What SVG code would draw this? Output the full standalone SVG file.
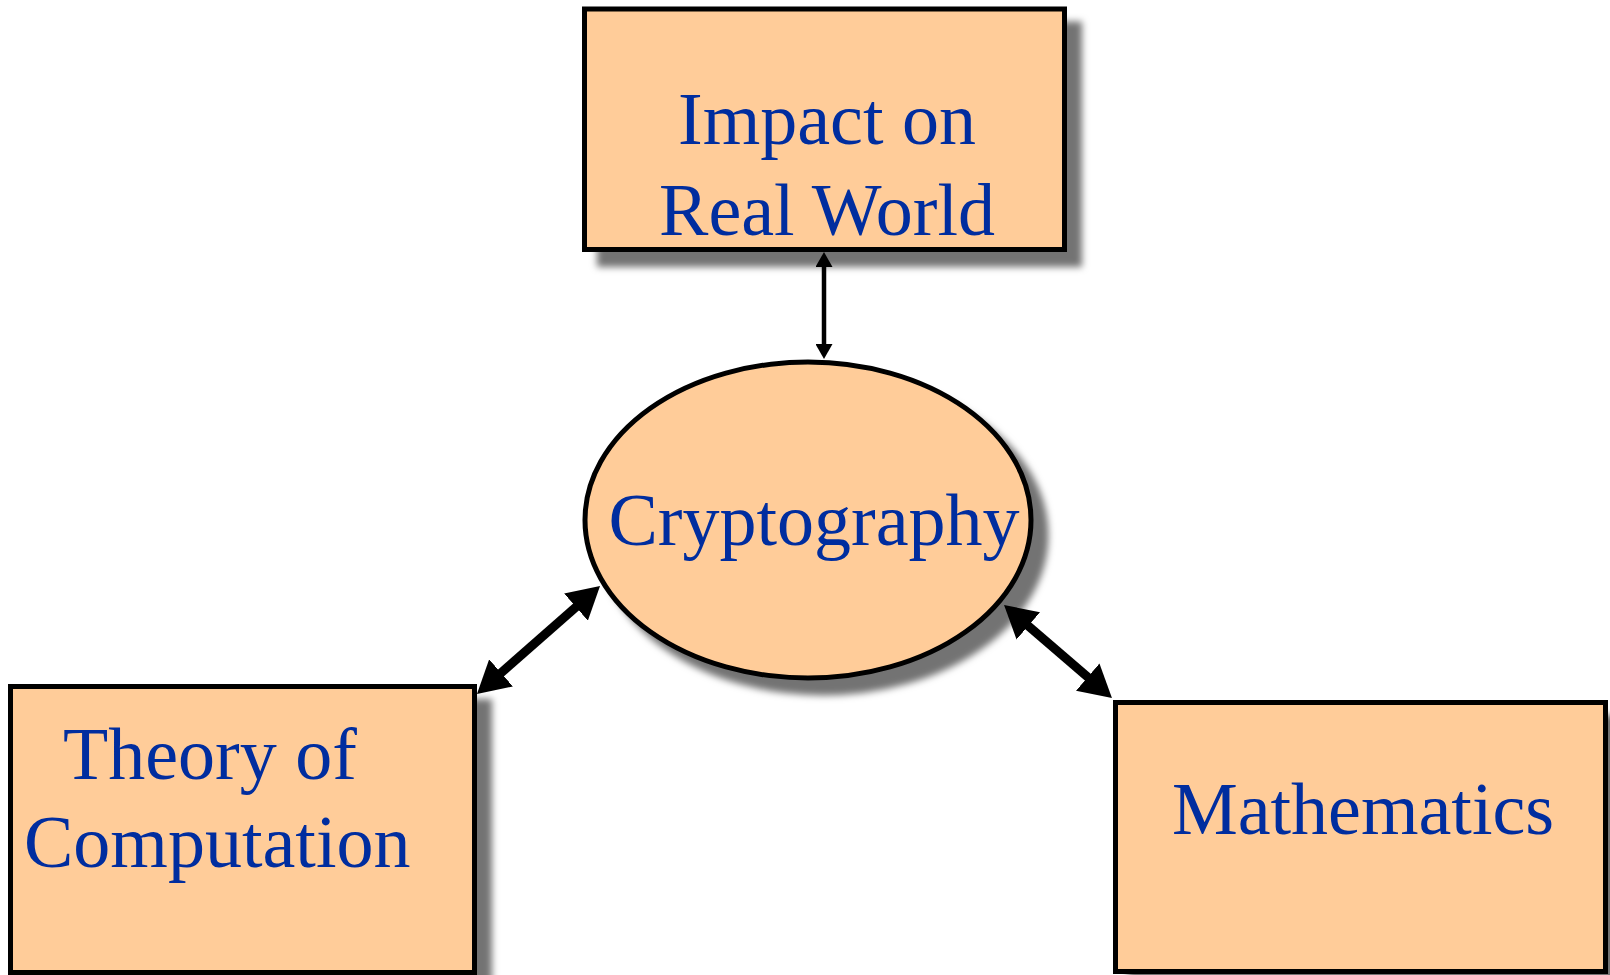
<svg xmlns="http://www.w3.org/2000/svg" width="1610" height="975" viewBox="0 0 1610 975">
<style>
.box{fill:#FFCC99;stroke:#000;stroke-width:5}
.lbl{font-family:"Liberation Serif","Times New Roman",serif;font-size:74px;fill:#002D9F}
.thick{stroke:#000;stroke-width:9;fill:none}
.thin{stroke:#000;stroke-width:4.5;fill:none}
</style>
<defs>
<filter id="sh" x="-10%" y="-10%" width="130%" height="130%">
<feDropShadow dx="15" dy="15" stdDeviation="3.5" flood-color="#000" flood-opacity="0.55"/>
</filter>
<marker id="big" viewBox="0 0 32 36" markerUnits="userSpaceOnUse" markerWidth="32" markerHeight="36" refX="12" refY="18" orient="auto-start-reverse">
<path d="M0,0 L32,18 L0,36 z" fill="#000"/>
</marker>
<marker id="small" viewBox="0 0 15 17" markerUnits="userSpaceOnUse" markerWidth="15" markerHeight="17" refX="7" refY="8.5" orient="auto-start-reverse">
<path d="M0,0 L15,8.5 L0,17 z" fill="#000"/>
</marker>
</defs>
<rect width="1610" height="975" fill="#fff"/>
<g id="impact">
<rect class="box" x="584.5" y="9" width="480" height="240.5" filter="url(#sh)"/>
<text class="lbl" x="827" y="144" text-anchor="middle">Impact on</text>
<text class="lbl" x="827" y="235" text-anchor="middle">Real World</text>
</g>
<g id="crypto">
<ellipse class="box" cx="808" cy="520" rx="223" ry="158" filter="url(#sh)"/>
<text class="lbl" x="814" y="545" text-anchor="middle">Cryptography</text>
</g>
<g id="theory">
<rect class="box" x="10.5" y="686.5" width="464" height="286" filter="url(#sh)"/>
<text class="lbl" x="63" y="779">Theory of</text>
<text class="lbl" x="24" y="867">Computation</text>
</g>
<g id="math">
<rect class="box" x="1115.5" y="702.5" width="490" height="269" filter="url(#sh)"/>
<text class="lbl" x="1363" y="834" text-anchor="middle">Mathematics</text>
</g>
<g id="connectors">
<line class="thin" x1="824" y1="260" x2="824" y2="351" marker-start="url(#small)" marker-end="url(#small)"/>
<line class="thick" x1="492" y1="680.8" x2="585" y2="599.2" marker-start="url(#big)" marker-end="url(#big)"/>
<line class="thick" x1="1019.2" y1="618.1" x2="1096.8" y2="684.9" marker-start="url(#big)" marker-end="url(#big)"/>
</g>
</svg>
